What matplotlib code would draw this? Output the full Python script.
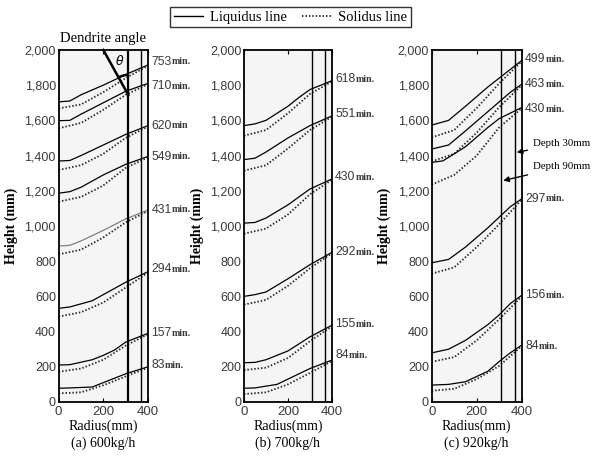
import numpy as np
import matplotlib.pyplot as plt
from matplotlib.lines import Line2D
from matplotlib.patches import Arc

# ---- data: (radius, height) points ----
# panel (a) 600kg/h
a_names = ['753', '710', '620', '549', '431', '294', '157', '83']
a_suffix = ['min.', 'min.', 'min', 'min.', 'min.', 'min.', 'min.', 'min.']
a_label_h = [1934, 1795, 1568, 1394, 1091, 754, 390, 210]
a_liq_r = [[0, 50, 100, 200, 300, 400],
           [0, 50, 100, 200, 300, 400],
           [0, 50, 100, 200, 300, 400],
           [0, 50, 100, 200, 300, 400],
           [0, 50, 100, 200, 300, 400],
           [0, 50, 150, 200, 300, 400],
           [0, 50, 150, 200, 250, 300, 400],
           [0, 50, 150, 200, 300, 400]]
a_liq_h = [[1705, 1710, 1745, 1800, 1860, 1915],
           [1598, 1600, 1635, 1700, 1765, 1810],
           [1369, 1372, 1400, 1460, 1520, 1570],
           [1186, 1195, 1220, 1290, 1350, 1395],
           [886, 890, 915, 975, 1040, 1090],
           [532, 540, 575, 610, 680, 740],
           [210, 212, 240, 265, 295, 340, 390],
           [78, 80, 85, 110, 160, 200]]
a_sol_r = [0, 100, 200, 300, 400]
a_sol_h = [[1668, 1690, 1760, 1840, 1910],
           [1555, 1585, 1660, 1745, 1805],
           [1318, 1345, 1410, 1500, 1565],
           [1138, 1165, 1230, 1330, 1390],
           [839, 865, 935, 1020, 1085],
           [485, 510, 565, 650, 735],
           [172, 190, 240, 320, 385],
           [49, 55, 95, 145, 195]]

# panel (b) 700kg/h
b_names = ['618', '551', '430', '292', '155', '84']
b_suffix = ['min.'] * 6
b_label_h = [1834, 1636, 1277, 851, 442, 266]
b_liq_r = [[0, 50, 100, 200, 250, 300, 400],
           [0, 50, 100, 200, 300, 400],
           [0, 50, 100, 200, 300, 400],
           [0, 50, 100, 200, 300, 400],
           [0, 50, 100, 200, 300, 400],
           [0, 50, 150, 200, 300, 400]]
b_liq_h = [[1570, 1580, 1600, 1680, 1730, 1775, 1825],
           [1377, 1385, 1420, 1500, 1570, 1625],
           [1016, 1020, 1045, 1120, 1210, 1267],
           [600, 610, 625, 700, 780, 850],
           [223, 225, 240, 290, 370, 436],
           [78, 80, 100, 130, 190, 238]]
b_sol_r = [0, 100, 200, 300, 400]
b_sol_h = [[1513, 1545, 1640, 1750, 1820],
           [1314, 1345, 1440, 1545, 1620],
           [956, 985, 1065, 1180, 1262],
           [553, 580, 660, 760, 845],
           [181, 195, 250, 345, 430],
           [45, 55, 100, 165, 233]]

# panel (c) 920kg/h
c_names = ['499', '463', '430', '297', '156', '84']
c_suffix = ['min.'] * 6
c_label_h = [1947, 1806, 1664, 1154, 606, 317]
c_liq_r = [[0, 75, 150, 250, 300, 350, 400],
           [0, 75, 150, 250, 300, 350, 400],
           [0, 50, 150, 250, 300, 400],
           [0, 75, 150, 250, 300, 350, 400],
           [0, 75, 150, 250, 300, 350, 400],
           [0, 75, 150, 250, 300, 350, 400]]
c_liq_h = [[1573, 1600, 1680, 1790, 1840, 1890, 1940],
           [1437, 1460, 1540, 1650, 1705, 1760, 1805],
           [1361, 1370, 1450, 1560, 1610, 1673],
           [791, 810, 880, 990, 1050, 1110, 1154],
           [279, 300, 350, 440, 495, 560, 606],
           [96, 100, 115, 175, 230, 280, 323]]
c_sol_r = [0, 100, 200, 300, 400]
c_sol_h = [[1503, 1545, 1670, 1810, 1935],
           [1367, 1410, 1530, 1675, 1800],
           [1235, 1290, 1400, 1560, 1668],
           [729, 765, 880, 1010, 1150],
           [228, 255, 350, 470, 600],
           [64, 75, 130, 205, 318]]

titles = ['(a) 600kg/h', '(b) 700kg/h', '(c) 920kg/h']
depths = [310, 370]   # 90mm and 30mm from the surface

sans = ['Liberation Sans', 'DejaVu Sans']
serif = ['Liberation Serif', 'DejaVu Serif']
txt_col = '#3a3a3a'
dots = (0, (0.8, 1.1))

fig = plt.figure(figsize=(5.94, 4.59), dpi=100)
lefts = [0.0988, 0.4108, 0.7268]
widths = [0.1503, 0.148, 0.1515]

panels = [(a_names, a_suffix, a_label_h, a_liq_r, a_liq_h, a_sol_r, a_sol_h),
          (b_names, b_suffix, b_label_h, b_liq_r, b_liq_h, b_sol_r, b_sol_h),
          (c_names, c_suffix, c_label_h, c_liq_r, c_liq_h, c_sol_r, c_sol_h)]

axes = []
for i, (names, suf, lab_h, lr, lh, sr, sh) in enumerate(panels):
    ax = fig.add_axes([lefts[i], 0.1242, widths[i], 0.767])
    ax.set_facecolor('#f5f5f5')
    for k in range(len(names)):
        col = '#808080' if (i == 0 and names[k] == '431') else 'black'
        ax.plot(lr[k], lh[k], color=col, lw=0.9)
        ax.plot(sr, sh[k], color='#222222', lw=1.3, ls=dots)
        t = ax.text(415, lab_h[k], names[k], fontsize=8.8, family=sans,
                    color=txt_col, va='center', ha='left', clip_on=False)
        ax.annotate(suf[k], xy=(1, 0.5), xycoords=t, fontsize=7.2, family=serif,
                    fontweight='bold', color=txt_col, va='center', ha='left')
    for j, d in enumerate(depths):
        ax.axvline(d, color='black', lw=1.6 if (i == 0 and j == 0) else 1.0)
    ax.set_xlim(0, 400)
    ax.set_ylim(0, 2000)
    ax.set_xticks([0, 200, 400])
    ax.set_yticks(np.arange(0, 2001, 200))
    ax.set_yticklabels(['0', '200', '400', '600', '800', '1,000', '1,200',
                        '1,400', '1,600', '1,800', '2,000'])
    ax.tick_params(axis='x', direction='in', length=3, top=True, labelsize=9.5,
                   labelcolor=txt_col, pad=3)
    ax.tick_params(axis='y', length=0, labelsize=9, labelcolor=txt_col, pad=2)
    for lab in ax.get_xticklabels() + ax.get_yticklabels():
        lab.set_family(sans)
    for s in ax.spines.values():
        s.set_linewidth(1.3)
    ax.set_ylabel('Height (mm)', family=serif, fontsize=10, fontweight='bold')
    ax.yaxis.set_label_coords(-0.455, 0.5)
    ax.set_xlabel('Radius(mm)\n' + titles[i], family=serif, fontsize=10,
                  labelpad=1, linespacing=1.3)
    axes.append(ax)

# dendrite angle sketch in panel (a)
ax = axes[0]
ax.plot([200, 312], [2000, 1744], color='black', lw=1.8, clip_on=False)
ax.add_patch(Arc((312, 1744), 180, 228, theta1=90, theta2=115, color='black', lw=1.8))
ax.text(272, 1935, r'$\theta$', fontsize=9, ha='center', va='center')
ax.text(200, 2030, 'Dendrite angle', family=serif, fontsize=10.5,
        ha='center', va='bottom')

# depth arrows in panel (c)
ax = axes[2]
ax.annotate('Depth 30mm', xy=(378, 1418), xytext=(450, 1470),
            fontsize=7.8, family=serif, va='center', ha='left',
            arrowprops=dict(arrowstyle='-|>', color='black', lw=1.0,
                            shrinkA=2, shrinkB=0, mutation_scale=8))
ax.annotate('Depth 90mm', xy=(318, 1258), xytext=(450, 1335),
            fontsize=7.8, family=serif, va='center', ha='left',
            arrowprops=dict(arrowstyle='-|>', color='black', lw=1.0,
                            shrinkA=2, shrinkB=0, mutation_scale=8))

handles = [Line2D([], [], color='black', lw=1.0),
           Line2D([], [], color='#222222', lw=1.3, ls=dots)]
leg = fig.legend(handles, ['Liquidus line', 'Solidus line'], loc='upper center',
                 bbox_to_anchor=(0.489, 0.985), ncol=2, frameon=True, fancybox=False,
                 prop={'family': serif, 'size': 10.5}, handlelength=2.0,
                 columnspacing=1.0, handletextpad=0.5, borderpad=0.25,
                 borderaxespad=0.0)
leg.get_frame().set_edgecolor('black')
leg.get_frame().set_linewidth(1.0)

fig.savefig('out.png', dpi=100)
